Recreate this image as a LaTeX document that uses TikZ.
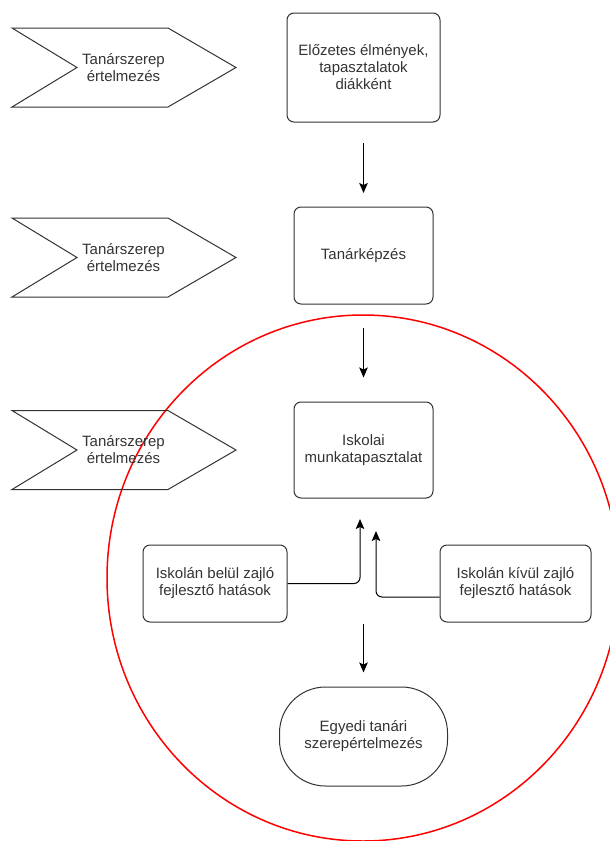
\documentclass[tikz,border=0pt]{standalone}
\usepackage{fontspec}
\setmainfont{Liberation Sans}
\usetikzlibrary{arrows.meta}
\definecolor{ink}{HTML}{333333}
\definecolor{redline}{HTML}{FF0000}
\begin{document}
\begin{tikzpicture}[x=1pt,y=-1pt,
  txt/.style={font=\fontsize{15}{17}\selectfont, text=ink, align=center},
  box/.style={txt, draw=ink, line width=1pt, rounded corners=7pt, inner sep=0pt},
  chev/.style={draw=ink, line width=1pt},
  arr/.style={draw=black, line width=1pt, -{Stealth[length=10pt,width=8.5pt,inset=2pt]}},
]
\useasboundingbox (0,0) rectangle (610,841);
% red ellipse
\draw[redline, line width=1.5pt] (363,578) ellipse [x radius=256, y radius=263];

% chevrons
\foreach \cy/\nm in {67.5/c1, 257.5/c2, 450/c3}{
  \draw[chev] (12,\cy-39.5) -- (168,\cy-39.5) -- (236,\cy) -- (168,\cy+39.5) -- (12,\cy+39.5) -- (77,\cy) -- cycle;
  \node[txt] (\nm) at (123.5,\cy) {Tanárszerep\\értelmezés};
}

% boxes
\node[box, minimum width=153pt, minimum height=109pt] (b1) at (363.5,67.5) {Előzetes élmények,\\tapasztalatok\\diákként};
\node[box, minimum width=139pt, minimum height=97pt] (b2) at (363.5,255.5) {Tanárképzés};
\node[box, minimum width=139pt, minimum height=96pt] (b3) at (363.5,450) {Iskolai\\munkatapasztalat};
\node[box, minimum width=144pt, minimum height=77pt] (lb) at (215,583.5) {Iskolán belül zajló\\fejlesztő hatások};
\node[box, minimum width=151pt, minimum height=77pt] (rb) at (515.5,583.5) {Iskolán kívül zajló\\fejlesztő hatások};
\node[box, rounded corners=46pt, minimum width=168pt, minimum height=99pt] (t) at (363.5,736.5) {Egyedi tanári\\szerepértelmezés};

% arrows
\coordinate (a1s) at (364,143); \coordinate (a1e) at (364,193);
\draw[arr] (b1.south |- a1s) -- (b1.south |- a1e);
\draw[arr] ([yshift=-23pt]b2.south) -- ([yshift=-73pt]b2.south);
\coordinate (tl) at (360,519);
\coordinate (tr) at (376,531);
\coordinate (rs) at ([yshift=-13.5pt]rb.west);
\draw[arr, rounded corners=6pt] (lb.east) -- (tl |- lb.east) -- (tl);
\draw[arr, rounded corners=6pt] (rs) -- (tr |- rs) -- (tr);
\draw[arr] ([yshift=-1pt]lb.south -| t.north) -- ([yshift=14pt]t.north);
\end{tikzpicture}
\end{document}
